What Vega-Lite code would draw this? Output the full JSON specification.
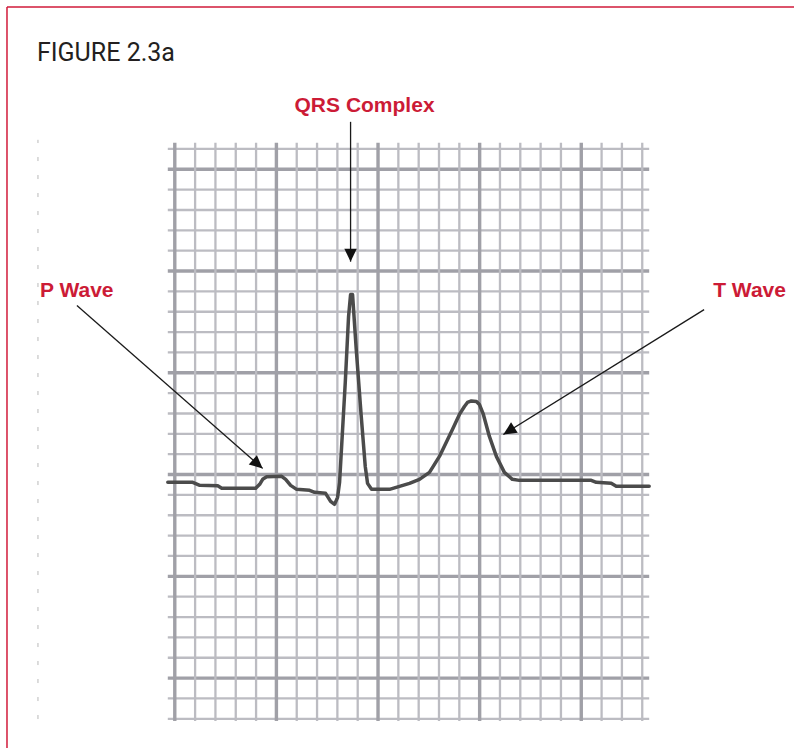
{
  "$schema": "https://vega.github.io/schema/vega-lite/v6.json",
  "width": 795,
  "height": 749,
  "autosize": {"type": "fit", "contains": "padding"},
  "padding": 0,
  "background": "white",
  "config": {"view": {"stroke": null}},
  "datasets": {
    "vgrid": [{"x":0},{"x":1},{"x":2},{"x":3},{"x":4},{"x":5},{"x":6},{"x":7},{"x":8},{"x":9},{"x":10},{"x":11},{"x":12},{"x":13},{"x":14},{"x":15},{"x":16},{"x":17},{"x":18},{"x":19},{"x":20},{"x":21},{"x":22},{"x":23}],
    "hgrid": [{"y":-2},{"y":-1},{"y":0},{"y":1},{"y":2},{"y":3},{"y":4},{"y":5},{"y":6},{"y":7},{"y":8},{"y":9},{"y":10},{"y":11},{"y":12},{"y":13},{"y":14},{"y":15},{"y":16},{"y":17},{"y":18},{"y":19},{"y":20},{"y":21},{"y":22},{"y":23},{"y":24},{"y":25},{"y":26}],
    "ecg": [
      {"t":-0.344,"v":9.617},{"t":0.885,"v":9.617},{"t":1.229,"v":9.47},{"t":2.113,"v":9.446},{"t":2.31,"v":9.323},{"t":3.98,"v":9.323},{"t":4.177,"v":9.519},{"t":4.324,"v":9.765},{"t":4.521,"v":9.887},{"t":5.258,"v":9.912},{"t":5.455,"v":9.765},{"t":5.7,"v":9.47},{"t":5.995,"v":9.274},{"t":6.634,"v":9.225},{"t":6.88,"v":9.127},{"t":7.42,"v":9.078},{"t":7.666,"v":8.685},{"t":7.862,"v":8.538},{"t":8.01,"v":8.881},{"t":8.108,"v":9.617},{"t":8.388,"v":14.524},{"t":8.55,"v":17.763},{"t":8.649,"v":18.842},{"t":8.747,"v":18.842},{"t":8.929,"v":16.143},{"t":9.174,"v":12.856},{"t":9.371,"v":10.402},{"t":9.484,"v":9.568},{"t":9.681,"v":9.274},{"t":10.565,"v":9.274},{"t":11.057,"v":9.421},{"t":11.548,"v":9.568},{"t":12.039,"v":9.765},{"t":12.531,"v":10.108},{"t":13.022,"v":10.893},{"t":13.661,"v":12.218},{"t":14.005,"v":12.954},{"t":14.251,"v":13.346},{"t":14.398,"v":13.543},{"t":14.595,"v":13.616},{"t":14.84,"v":13.592},{"t":14.988,"v":13.445},{"t":15.184,"v":12.954},{"t":15.479,"v":11.874},{"t":15.823,"v":10.893},{"t":16.216,"v":10.108},{"t":16.609,"v":9.765},{"t":16.953,"v":9.715},{"t":20.491,"v":9.715},{"t":20.737,"v":9.617},{"t":21.474,"v":9.568},{"t":21.72,"v":9.421},{"t":23.342,"v":9.421}
    ],
    "arrows": [
      {"name":"QRS","x":8.649,"y":27.331,"x2":8.649,"y2":20.461},
      {"name":"P","x":-4.816,"y":18.302,"x2":4.324,"y2":10.304},
      {"name":"T","x":26.044,"y":18.106,"x2":16.167,"y2":11.972}
    ],
    "labels": [
      {"text":"QRS Complex","x":9.337,"y":27.821},
      {"text":"P Wave","x":-6.634,"y":18.744},
      {"text":"T Wave","x":30.07,"y":18.744},
      {"text":"FIGURE 2.3a","x":-6.781,"y":30.324}
    ]
  },
  "layer": [
    {
      "data": {"name": "hgrid"},
      "mark": {"type": "rule"},
      "encoding": {
        "y": {"field": "y", "type": "quantitative", "scale": {"domain": [-3.435, 33.317], "nice": false, "zero": false}, "axis": null},
        "x": {"datum": -0.344, "type": "quantitative", "scale": {"domain": [-8.6, 30.467], "nice": false, "zero": false}, "axis": null},
        "x2": {"datum": 23.342},
        "color": {"condition": {"test": "datum.y % 5 === 0", "value": "#a0a0a7"}, "value": "#bcbcc2"},
        "strokeWidth": {"condition": {"test": "datum.y % 5 === 0", "value": 3.4}, "value": 2.3}
      }
    },
    {
      "data": {"name": "vgrid"},
      "mark": {"type": "rule"},
      "encoding": {
        "x": {"field": "x", "type": "quantitative", "scale": {"domain": [-8.6, 30.467], "nice": false, "zero": false}, "axis": null},
        "y": {"datum": -2.11, "type": "quantitative", "scale": {"domain": [-3.435, 33.317], "nice": false, "zero": false}, "axis": null},
        "y2": {"datum": 26.3},
        "color": {"condition": {"test": "datum.x % 5 === 0", "value": "#a0a0a7"}, "value": "#bcbcc2"},
        "strokeWidth": {"condition": {"test": "datum.x % 5 === 0", "value": 3.4}, "value": 2.3}
      }
    },
    {
      "data": {"name": "ecg"},
      "mark": {"type": "line", "color": "#4b4b4b", "strokeWidth": 3.5, "strokeJoin": "round", "strokeCap": "round"},
      "encoding": {
        "x": {"field": "t", "type": "quantitative", "scale": {"domain": [-8.6, 30.467], "nice": false, "zero": false}, "axis": null},
        "y": {"field": "v", "type": "quantitative", "scale": {"domain": [-3.435, 33.317], "nice": false, "zero": false}, "axis": null}
      }
    },
    {
      "data": {"name": "arrows"},
      "mark": {"type": "rule", "color": "#1a1a1a", "strokeWidth": 1.3},
      "encoding": {
        "x": {"field": "x", "type": "quantitative", "scale": {"domain": [-8.6, 30.467], "nice": false, "zero": false}, "axis": null},
        "y": {"field": "y", "type": "quantitative", "scale": {"domain": [-3.435, 33.317], "nice": false, "zero": false}, "axis": null},
        "x2": {"field": "x2"},
        "y2": {"field": "y2"}
      }
    },
    {
      "data": {"name": "arrows"},
      "transform": [{"filter": "datum.name === 'QRS'"}],
      "mark": {"type": "point", "shape": "M0,0L-0.48,1L0.48,1Z", "size": 676, "filled": true, "color": "#111111", "opacity": 1, "angle": 180},
      "encoding": {
        "x": {"field": "x2", "type": "quantitative", "scale": {"domain": [-8.6, 30.467], "nice": false, "zero": false}, "axis": null},
        "y": {"field": "y2", "type": "quantitative", "scale": {"domain": [-3.435, 33.317], "nice": false, "zero": false}, "axis": null}
      }
    },
    {
      "data": {"name": "arrows"},
      "transform": [{"filter": "datum.name === 'P'"}],
      "mark": {"type": "point", "shape": "M0,0L-0.48,1L0.48,1Z", "size": 676, "filled": true, "color": "#111111", "opacity": 1, "angle": 131},
      "encoding": {
        "x": {"field": "x2", "type": "quantitative", "scale": {"domain": [-8.6, 30.467], "nice": false, "zero": false}, "axis": null},
        "y": {"field": "y2", "type": "quantitative", "scale": {"domain": [-3.435, 33.317], "nice": false, "zero": false}, "axis": null}
      }
    },
    {
      "data": {"name": "arrows"},
      "transform": [{"filter": "datum.name === 'T'"}],
      "mark": {"type": "point", "shape": "M0,0L-0.48,1L0.48,1Z", "size": 676, "filled": true, "color": "#111111", "opacity": 1, "angle": 238},
      "encoding": {
        "x": {"field": "x2", "type": "quantitative", "scale": {"domain": [-8.6, 30.467], "nice": false, "zero": false}, "axis": null},
        "y": {"field": "y2", "type": "quantitative", "scale": {"domain": [-3.435, 33.317], "nice": false, "zero": false}, "axis": null}
      }
    },
    {
      "data": {"name": "labels"},
      "transform": [{"filter": "datum.text === 'QRS Complex'"}],
      "mark": {"type": "text", "font": "Liberation Sans, Arial, sans-serif", "fontWeight": "bold", "fontSize": 21, "color": "#cc1b36", "align": "center", "baseline": "alphabetic"},
      "encoding": {
        "x": {"field": "x", "type": "quantitative", "scale": {"domain": [-8.6, 30.467], "nice": false, "zero": false}, "axis": null},
        "y": {"field": "y", "type": "quantitative", "scale": {"domain": [-3.435, 33.317], "nice": false, "zero": false}, "axis": null},
        "text": {"field": "text"}
      }
    },
    {
      "data": {"name": "labels"},
      "transform": [{"filter": "datum.text === 'P Wave'"}],
      "mark": {"type": "text", "font": "Liberation Sans, Arial, sans-serif", "fontWeight": "bold", "fontSize": 21, "color": "#cc1b36", "align": "left", "baseline": "alphabetic"},
      "encoding": {
        "x": {"field": "x", "type": "quantitative", "scale": {"domain": [-8.6, 30.467], "nice": false, "zero": false}, "axis": null},
        "y": {"field": "y", "type": "quantitative", "scale": {"domain": [-3.435, 33.317], "nice": false, "zero": false}, "axis": null},
        "text": {"field": "text"}
      }
    },
    {
      "data": {"name": "labels"},
      "transform": [{"filter": "datum.text === 'T Wave'"}],
      "mark": {"type": "text", "font": "Liberation Sans, Arial, sans-serif", "fontWeight": "bold", "fontSize": 21, "color": "#cc1b36", "align": "right", "baseline": "alphabetic"},
      "encoding": {
        "x": {"field": "x", "type": "quantitative", "scale": {"domain": [-8.6, 30.467], "nice": false, "zero": false}, "axis": null},
        "y": {"field": "y", "type": "quantitative", "scale": {"domain": [-3.435, 33.317], "nice": false, "zero": false}, "axis": null},
        "text": {"field": "text"}
      }
    },
    {
      "data": {"name": "labels"},
      "transform": [{"filter": "datum.text === 'FIGURE 2.3a'"}],
      "mark": {"type": "text", "font": "Roboto, sans-serif", "fontWeight": "normal", "fontSize": 25, "color": "#231f20", "align": "left", "baseline": "alphabetic"},
      "encoding": {
        "x": {"field": "x", "type": "quantitative", "scale": {"domain": [-8.6, 30.467], "nice": false, "zero": false}, "axis": null},
        "y": {"field": "y", "type": "quantitative", "scale": {"domain": [-3.435, 33.317], "nice": false, "zero": false}, "axis": null},
        "text": {"field": "text"}
      }
    },
    {
      "data": {"values": [{}]},
      "mark": {"type": "rule", "color": "#9a9a9a", "strokeWidth": 1, "strokeDash": [4, 14], "opacity": 0.7},
      "encoding": {
        "x": {"datum": -6.732, "type": "quantitative", "scale": {"domain": [-8.6, 30.467], "nice": false, "zero": false}, "axis": null},
        "y": {"datum": -2.012, "type": "quantitative", "scale": {"domain": [-3.435, 33.317], "nice": false, "zero": false}, "axis": null},
        "y2": {"datum": 26.447}
      }
    },
    {
      "data": {"values": [{}]},
      "mark": {"type": "rule", "color": "#d11a3a", "strokeWidth": 1.5},
      "encoding": {
        "x": {"datum": -8.256, "type": "quantitative", "scale": {"domain": [-8.6, 30.467], "nice": false, "zero": false}, "axis": null},
        "x2": {"datum": 30.467},
        "y": {"datum": 32.974, "type": "quantitative", "scale": {"domain": [-3.435, 33.317], "nice": false, "zero": false}, "axis": null}
      }
    },
    {
      "data": {"values": [{}]},
      "mark": {"type": "rule", "color": "#d11a3a", "strokeWidth": 1.5},
      "encoding": {
        "x": {"datum": -8.256, "type": "quantitative", "scale": {"domain": [-8.6, 30.467], "nice": false, "zero": false}, "axis": null},
        "y": {"datum": 32.974, "type": "quantitative", "scale": {"domain": [-3.435, 33.317], "nice": false, "zero": false}, "axis": null},
        "y2": {"datum": -3.435}
      }
    }
  ]
}
